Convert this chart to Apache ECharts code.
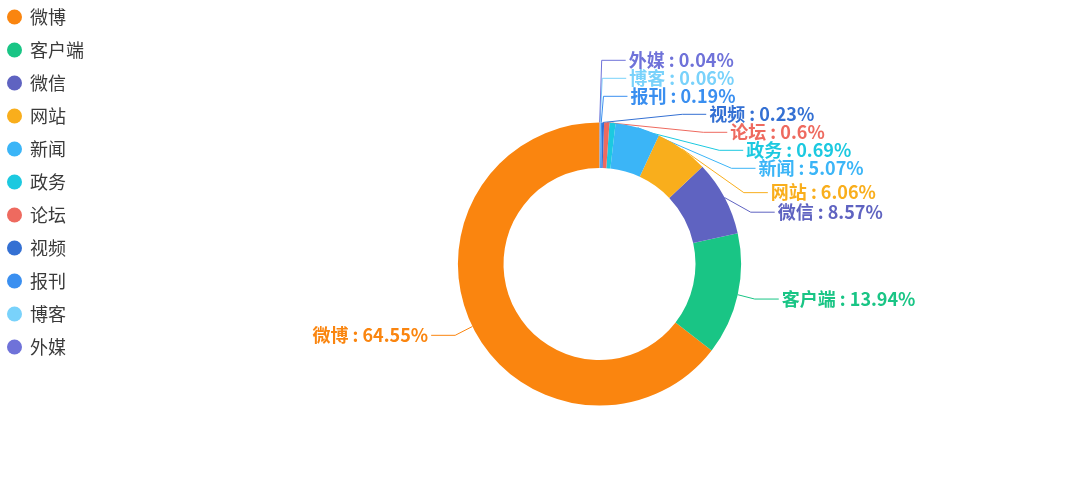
<!DOCTYPE html>
<html>
<head>
<meta charset="utf-8">
<script src="https://cdn.jsdelivr.net/npm/echarts@6/dist/echarts.min.js"></script>
<style>
  html, body { margin: 0; padding: 0; background: #fff; }
  #chart { width: 1090px; height: 480px; }
</style>
</head>
<body>
<div id="chart"></div>
<script>
// Source channels and their share of mentions (%)
const channels = ['微博', '客户端', '微信', '网站', '新闻', '政务', '论坛', '视频', '报刊', '博客', '外媒'];
const shares = [64.55, 13.94, 8.57, 6.06, 5.07, 0.69, 0.6, 0.23, 0.19, 0.06, 0.04];
const palette = ['#fa850f', '#19c585', '#5f63c1', '#f9ae1c', '#3bb5f7', '#1cc9e0', '#ee6a5f', '#3470d3', '#3a8ff0', '#79d2fb', '#6f72d9'];

// Guide line geometry
const LINE_LENGTH = 20;
const LINE_LENGTH2 = 24;
const TEXT_GAP = 5;     // distance from guide line end to text (default pie setting)
const LINE_GAP = 3;     // distance kept after labels are spread
const LABEL_HEIGHT = 18;

const el = document.getElementById('chart');
const chart = echarts.init(el);

// Label positions are first read from the library's own layout, then spread
// vertically so that neighbouring labels on one side never overlap.
let naturalLabels = {};
let spreadResult = null;

function pieLabelLayout(params) {
  if (!spreadResult) {
    naturalLabels[params.dataIndex] = {
      points: params.labelLinePoints.map(p => p.slice()),
      height: LABEL_HEIGHT
    };
    return {};
  }
  return spreadResult[params.dataIndex] || {};
}

function adjustSide(list, cx, cy, r, dir, viewTop, viewHeight) {
  list.sort((a, b) => a.y - b.y);

  function shiftUp(end, delta) {
    for (let j = end; j >= 0; j--) {
      if (list[j].y - delta < viewTop) break;
      list[j].y -= delta;
      if (j > 0 && list[j].y > list[j - 1].y + list[j - 1].height) break;
    }
  }
  function shiftDown(start, end, delta) {
    for (let j = start; j < end; j++) {
      if (list[j].y + delta > viewTop + viewHeight) break;
      list[j].y += delta;
      if (j > start && j + 1 < end && list[j + 1].y > list[j].y + list[j].height) {
        shiftUp(j, delta / 2);
        return;
      }
    }
    shiftUp(end - 1, delta / 2);
  }
  function changeX(items, isDown) {
    let lastDeltaX = isDown ? Number.MAX_VALUE : 0;
    for (let i = 0; i < items.length; i++) {
      const it = items[i];
      const deltaY = Math.abs(it.y - cy);
      const outer = r + it.len + it.len2;
      let deltaX = deltaY < r + it.len
        ? Math.sqrt(outer * outer - deltaY * deltaY)
        : Math.abs(it.x - cx);
      if (isDown && deltaX >= lastDeltaX) deltaX = lastDeltaX - 10;
      if (!isDown && deltaX <= lastDeltaX) deltaX = lastDeltaX + 10;
      it.x = cx + deltaX * dir;
      lastDeltaX = deltaX;
    }
  }

  let lastY = 0;
  for (let i = 0; i < list.length; i++) {
    const delta = list[i].y - lastY;
    if (delta < 0) shiftDown(i, list.length, -delta);
    lastY = list[i].y + list[i].height;
  }
  if (viewHeight - lastY < 0) shiftUp(list.length - 1, lastY - viewHeight);

  changeX(list.filter(it => it.y < cy), false);
  changeX(list.filter(it => it.y >= cy), true);
}

function spreadLabels() {
  const layout = chart.getModel().getSeriesByIndex(0).getData().getItemLayout(0);
  const cx = layout.cx, cy = layout.cy, r = layout.r;
  const left = [], right = [];
  Object.keys(naturalLabels).forEach(k => {
    const n = naturalLabels[k];
    const p = n.points;
    const dir = p[2][0] >= p[1][0] ? 1 : -1;
    const item = {
      idx: +k, dir, points: p,
      x: p[2][0] + dir * TEXT_GAP, y: p[2][1],
      height: n.height, len: LINE_LENGTH, len2: LINE_LENGTH2
    };
    (dir > 0 ? right : left).push(item);
  });
  adjustSide(left, cx, cy, r, -1, 0, el.clientHeight);
  adjustSide(right, cx, cy, r, 1, 0, el.clientHeight);

  const out = {};
  left.concat(right).forEach(it => {
    const pts = it.points;
    const dist = pts[1][0] - pts[2][0];
    pts[2][0] = it.x - it.dir * LINE_GAP;
    pts[1][1] = pts[2][1] = it.y;
    pts[1][0] = pts[2][0] + dist;
    out[it.idx] = { x: it.x, y: it.y, labelLinePoints: pts };
  });
  return out;
}

function buildOption() {
  return {
    animation: false,
    color: palette,
    legend: {
      orient: 'vertical',
      left: 2,
      top: 3,
      icon: 'circle',
      itemWidth: 15,
      itemHeight: 15,
      itemGap: 15,
      textStyle: {
        fontSize: 18,
        color: '#3a3a3a',
        fontFamily: "'Noto Sans CJK SC', sans-serif",
        padding: [0, 0, 0, 3]
      },
      data: channels
    },
    series: [{
      type: 'pie',
      center: ['55%', '55%'],
      radius: ['40%', '59%'],
      clockwise: false,
      startAngle: 90,
      avoidLabelOverlap: false,
      label: {
        formatter: '{b} : {d}%',
        color: 'inherit',
        fontSize: 18,
        lineHeight: LABEL_HEIGHT,
        fontWeight: 'bold',
        fontFamily: "'Noto Sans CJK SC', sans-serif"
      },
      labelLine: { length: LINE_LENGTH, length2: LINE_LENGTH2 },
      labelLayout: pieLabelLayout,
      data: channels.map((name, i) => ({ name, value: shares[i] }))
    }]
  };
}

chart.setOption(buildOption());
spreadResult = spreadLabels();
chart.setOption(buildOption(), true);
</script>
</body>
</html>
